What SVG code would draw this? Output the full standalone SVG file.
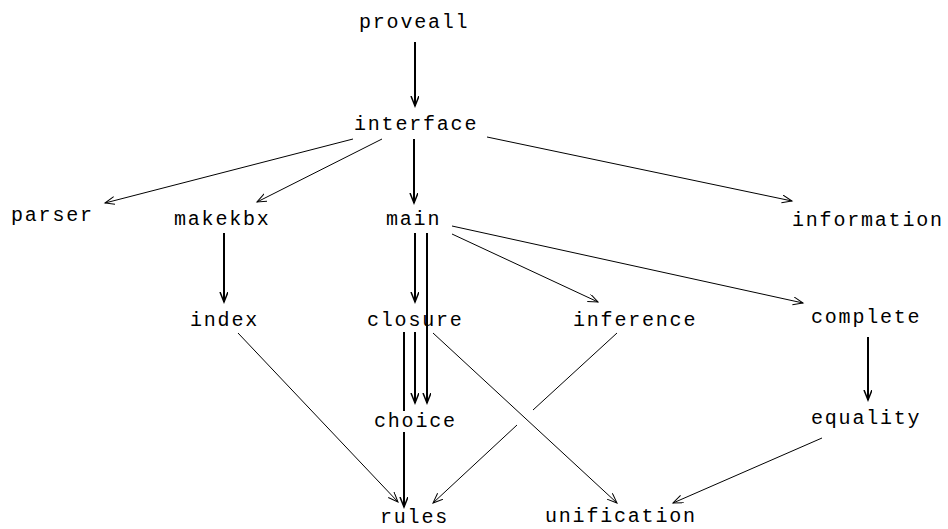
<svg xmlns="http://www.w3.org/2000/svg" width="948" height="529" viewBox="0 0 948 529">
<style>
text{font-family:"Liberation Mono","DejaVu Sans Mono",monospace;font-size:20px;letter-spacing:1.8px;fill:#000}
.b{stroke:#000;stroke-width:2;fill:none}
.t{stroke:#000;stroke-width:1;fill:none}
</style>
<defs>
<marker id="ab" markerUnits="userSpaceOnUse" markerWidth="12" markerHeight="10" refX="10" refY="4" orient="auto" viewBox="0 0 12 10">
<path d="M0,0 L10,4 L0,8" fill="none" stroke="#000" stroke-width="1.5"/>
</marker>
<marker id="at" markerUnits="userSpaceOnUse" markerWidth="12" markerHeight="10" refX="10" refY="4" orient="auto" viewBox="0 0 12 10">
<path d="M0,0 L10,4 L0,8" fill="none" stroke="#000" stroke-width="1"/>
</marker>
</defs>
<g id="edges">
<path class="b" d="M415,42 V106" marker-end="url(#ab)"/>
<path class="t" d="M353,139 L105,203" marker-end="url(#at)"/>
<path class="t" d="M382,139 L257,202" marker-end="url(#at)"/>
<path class="b" d="M414,139 V203" marker-end="url(#ab)"/>
<path class="t" d="M487,137 L792,201" marker-end="url(#at)"/>
<path class="b" d="M224,233 V302" marker-end="url(#ab)"/>
<path class="b" d="M415,233 V302" marker-end="url(#ab)"/>
<path class="b" d="M427,233 V403" marker-end="url(#ab)"/>
<path class="t" d="M452,234 L598,302" marker-end="url(#at)"/>
<path class="t" d="M452,226 L803,303" marker-end="url(#at)"/>
<path class="b" d="M415,332 V403" marker-end="url(#ab)"/>
<path class="b" d="M404,332 V411 M404,432 V507" marker-end="url(#ab)"/>
<path class="t" d="M238,333 L398,502" marker-end="url(#at)"/>
<path class="t" d="M433,333 L617,503" marker-end="url(#at)"/>
<path class="t" d="M617,333 L533,410 M517,425 L433,503" marker-end="url(#at)"/>
<path class="b" d="M868,337 V400" marker-end="url(#ab)"/>
<path class="t" d="M822,438 L673,503" marker-end="url(#at)"/>
</g>
<g id="proveall"><text x="359" y="28">proveall</text></g>
<g id="interface"><text x="354" y="130">interface</text></g>
<g id="parser"><text x="11" y="221">parser</text></g>
<g id="makekbx"><text x="174" y="225">makekbx</text></g>
<g id="main"><text x="386" y="225">main</text></g>
<g id="information"><text x="792" y="226">information</text></g>
<g id="index"><text x="190" y="326">index</text></g>
<g id="closure"><text x="367" y="326">closure</text></g>
<g id="inference"><text x="573" y="326">inference</text></g>
<g id="complete"><text x="811" y="323">complete</text></g>
<g id="choice"><text x="374" y="427">choice</text></g>
<g id="equality"><text x="811" y="424">equality</text></g>
<g id="rules"><text x="380" y="523">rules</text></g>
<g id="unification"><text x="545" y="522">unification</text></g>
</svg>
